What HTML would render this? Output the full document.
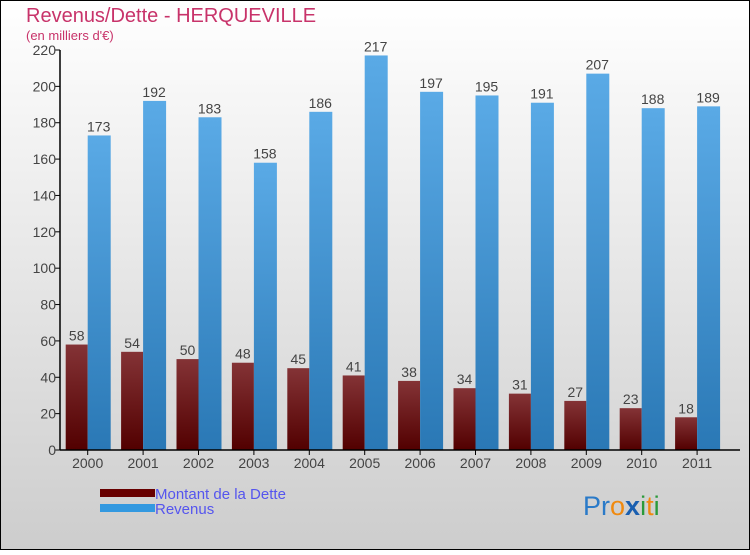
<!DOCTYPE html>
<html><head><meta charset="utf-8">
<style>
body{margin:0;}
#wrap{position:relative;width:750px;height:550px;}
svg text{font-family:"Liberation Sans","DejaVu Sans",sans-serif;}
</style></head>
<body>
<div id="wrap">
<svg id="chart" width="750" height="550" xmlns="http://www.w3.org/2000/svg">
<defs>
<linearGradient id="bg" x1="0" y1="0" x2="0" y2="1">
<stop offset="0" stop-color="#ffffff"/><stop offset="1" stop-color="#cdcdcd"/></linearGradient>
<linearGradient id="gd" x1="0" y1="0" x2="0" y2="1">
<stop offset="0" stop-color="#843336"/><stop offset="1" stop-color="#520000"/></linearGradient>
<linearGradient id="gr" x1="0" y1="0" x2="0" y2="1">
<stop offset="0" stop-color="#5aaae6"/><stop offset="1" stop-color="#2a78b5"/></linearGradient>
</defs>
<rect x="0.5" y="0.5" width="749" height="549" fill="url(#bg)" stroke="#000"/>
<text x="26" y="22" font-size="20" fill="#c8336a">Revenus/Dette - HERQUEVILLE</text>
<text x="26" y="40" font-size="13" fill="#c8336a">(en milliers d'€)</text>
<g id="plot"></g>
<g>
<rect x="100" y="489" width="55" height="8" fill="#680000"/>
<text x="155" y="499" font-size="15" fill="#5555ee">Montant de la Dette</text>
<rect x="100" y="504" width="55" height="8" fill="#3399e0"/>
<text x="155" y="514" font-size="15" fill="#5555ee">Revenus</text>
</g>
<text x="583" y="515" font-size="27"><tspan fill="#2a7ac8">Pr</tspan><tspan fill="#f08a10">o</tspan><tspan fill="#1a5fb0" font-weight="bold">x</tspan><tspan fill="#2a9a3a">i</tspan><tspan fill="#f08a10">t</tspan><tspan fill="#2a9a3a">i</tspan></text>
</svg>
</div>
<script>
const years=["2000","2001","2002","2003","2004","2005","2006","2007","2008","2009","2010","2011"];
const dette=[58,54,50,48,45,41,38,34,31,27,23,18];
const revenus=[173,192,183,158,186,217,197,195,191,207,188,189];
const yTicks=[0,20,40,60,80,100,120,140,160,180,200,220];
const NS="http://www.w3.org/2000/svg";
const g=document.getElementById('plot');
const x0=60,step=55.4,y0=450,yMax=220,yTop=50;
const yS=v=>y0-(v/yMax)*(y0-yTop);
const xC=i=>x0+step*(i+0.5);
function mk(t,a){const e=document.createElementNS(NS,t);for(const k in a)e.setAttribute(k,a[k]);g.appendChild(e);return e;}
yTicks.forEach(v=>{
 const l=mk('line',{x1:x0-5,x2:x0,y1:yS(v),y2:yS(v),stroke:'#000'});
 
 
 const t=mk('text',{x:x0-4,y:yS(v)+5,'font-size':14,'text-anchor':'end',fill:'#444'});
 t.textContent=v;
 
 
});
years.forEach((yr,i)=>{
 const c=xC(i),w=22;
 const b1=mk('rect',{x:c-w,y:yS(dette[i]),width:w,height:y0-yS(dette[i]),fill:'url(#gd)'});
 
 
 const b2=mk('rect',{x:c,y:yS(revenus[i]),width:w+1,height:y0-yS(revenus[i]),fill:'url(#gr)'});
 
 
 const t1=mk('text',{x:c-w/2,y:yS(dette[i])-4,'font-size':14,'text-anchor':'middle',fill:'#444'});
 t1.textContent=dette[i];
 
 
 const t2=mk('text',{x:c+w/2,y:yS(revenus[i])-4,'font-size':14,'text-anchor':'middle',fill:'#444'});
 t2.textContent=revenus[i];
 
 
 const tk=mk('line',{x1:c,x2:c,y1:y0,y2:y0+5,stroke:'#000'});
 
 
 const xl=mk('text',{x:c,y:y0+18,'font-size':14,'text-anchor':'middle',fill:'#444'});
 xl.textContent=yr;
 
 
});
const ya=mk('line',{x1:x0,x2:x0,y1:yTop,y2:y0,stroke:'#000','stroke-width':1.5});


const xa=mk('line',{x1:x0,x2:740,y1:y0,y2:y0,stroke:'#000','stroke-width':1.5});


</script>
</body></html>
